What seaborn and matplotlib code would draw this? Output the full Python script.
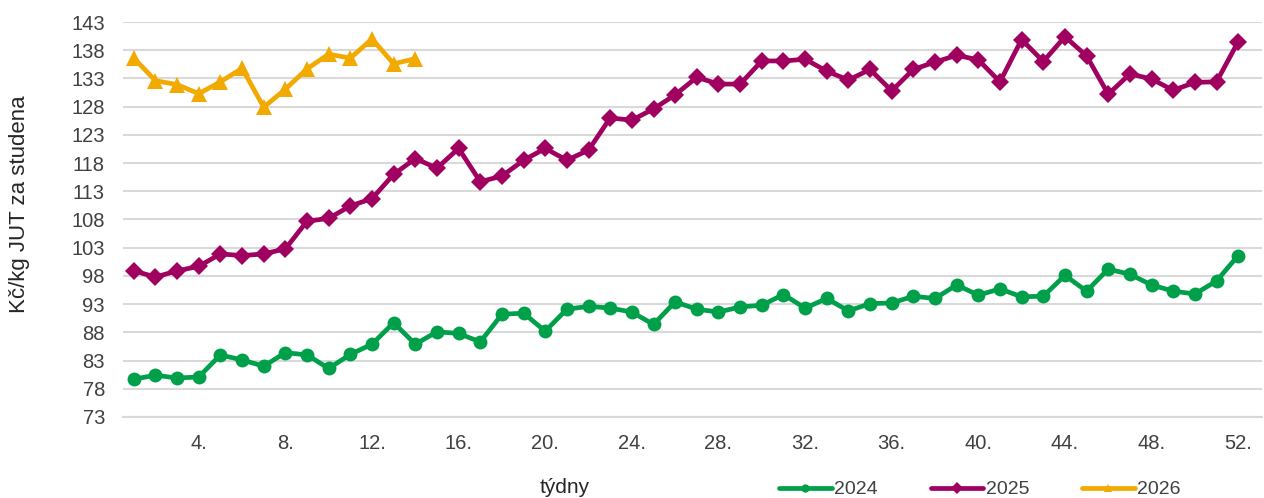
import matplotlib
matplotlib.use("Agg")
import matplotlib.pyplot as plt
from matplotlib.lines import Line2D
import pandas as pd
import seaborn as sns

# weekly prices, Kc/kg JUT za studena
weeks_2024 = list(range(1, 53))
vals_2024 = [79.7, 80.4, 79.9, 80.1, 84.0, 83.1, 82.0, 84.4, 84.0, 81.6,
             84.1, 85.9, 89.7, 85.9, 88.1, 87.8, 86.3, 91.2, 91.4, 88.2,
             92.1, 92.6, 92.3, 91.6, 89.4, 93.4, 92.1, 91.6, 92.5, 92.8,
             94.7, 92.3, 94.0, 91.8, 93.1, 93.2, 94.4, 94.0, 96.4, 94.6,
             95.7, 94.3, 94.4, 98.1, 95.3, 99.2, 98.3, 96.4, 95.3, 94.8,
             97.1, 101.6]
weeks_2025 = list(range(1, 53))
vals_2025 = [98.9, 97.8, 98.9, 99.7, 101.9, 101.6, 101.9, 102.8, 107.7, 108.2,
             110.4, 111.7, 116.0, 118.8, 117.1, 120.6, 114.7, 115.7, 118.5, 120.6,
             118.5, 120.3, 126.0, 125.6, 127.6, 130.1, 133.2, 132.0, 132.0, 136.1,
             136.1, 136.4, 134.3, 132.7, 134.6, 130.8, 134.6, 135.9, 137.1, 136.3,
             132.4, 139.9, 136.0, 140.4, 137.0, 130.2, 133.8, 132.9, 130.9, 132.3,
             132.4, 139.5]
weeks_2026 = list(range(1, 15))
vals_2026 = [136.6, 132.6, 131.9, 130.3, 132.4, 134.8, 127.9, 131.1, 134.7,
             137.3, 136.6, 140.0, 135.6, 136.5]

y_ticks = list(range(73, 144, 5))
x_ticks = list(range(4, 53, 4))
x_labels = [f"{w}." for w in x_ticks]

years = ["2024", "2025", "2026"]
colors = {"2024": "#00A04B", "2025": "#A0005F", "2026": "#F2A900"}
markers = {"2024": "o", "2025": "D", "2026": "^"}
msizes = {"2024": 10, "2025": 9.5, "2026": 12}

df = pd.concat([
    pd.DataFrame({"week": weeks_2024, "value": vals_2024, "year": "2024"}),
    pd.DataFrame({"week": weeks_2025, "value": vals_2025, "year": "2025"}),
    pd.DataFrame({"week": weeks_2026, "value": vals_2026, "year": "2026"}),
])

sns.set_style("white")
plt.rcParams['font.family'] = ['Liberation Sans', 'DejaVu Sans']

fig = plt.figure(figsize=(12.64, 4.98), dpi=100)
ax = fig.add_axes([0.0973, 0.1627, 0.9011, 0.7931])

for yr in years:
    sns.lineplot(data=df[df["year"] == yr], x="week", y="value", ax=ax,
                 color=colors[yr], marker=markers[yr], markersize=msizes[yr],
                 markeredgewidth=0, linewidth=3.4, legend=False)

ax.set_xlim(0.5, 53.1)
ax.set_ylim(73, 143)
ax.set_yticks(y_ticks)
ax.set_xticks(x_ticks)
ax.set_xticklabels(x_labels)
ax.yaxis.grid(True, color="#d9d9d9", linewidth=1.5, zorder=0)
ax.set_axisbelow(True)
for s in ["top", "right", "left"]:
    ax.spines[s].set_visible(False)
ax.spines["bottom"].set_color("#d9d9d9")
ax.spines["bottom"].set_linewidth(1.5)
ax.tick_params(axis="both", length=0, labelsize=14.5, labelcolor="#404040")
ax.tick_params(axis="y", pad=13)
ax.tick_params(axis="x", pad=12)
ax.set_xlabel("")
ax.set_ylabel("Kč/kg JUT za studena", fontsize=16)
ax.yaxis.set_label_coords(-0.082, 0.54)

fig.text(0.447, 0.010, "týdny", fontsize=15, ha="center", va="baseline")

handles = [Line2D([], [], color=colors[yr], marker=markers[yr], markersize=6,
                  markeredgewidth=0, linewidth=3.4) for yr in years]
fig.legend(handles, years, loc="lower left", bbox_to_anchor=(0.6025, -0.036),
           ncol=3, frameon=False, fontsize=14, handlelength=2.7,
           handletextpad=0.15, columnspacing=2.7, labelcolor="#404040")

fig.savefig("out.png", dpi=100)
